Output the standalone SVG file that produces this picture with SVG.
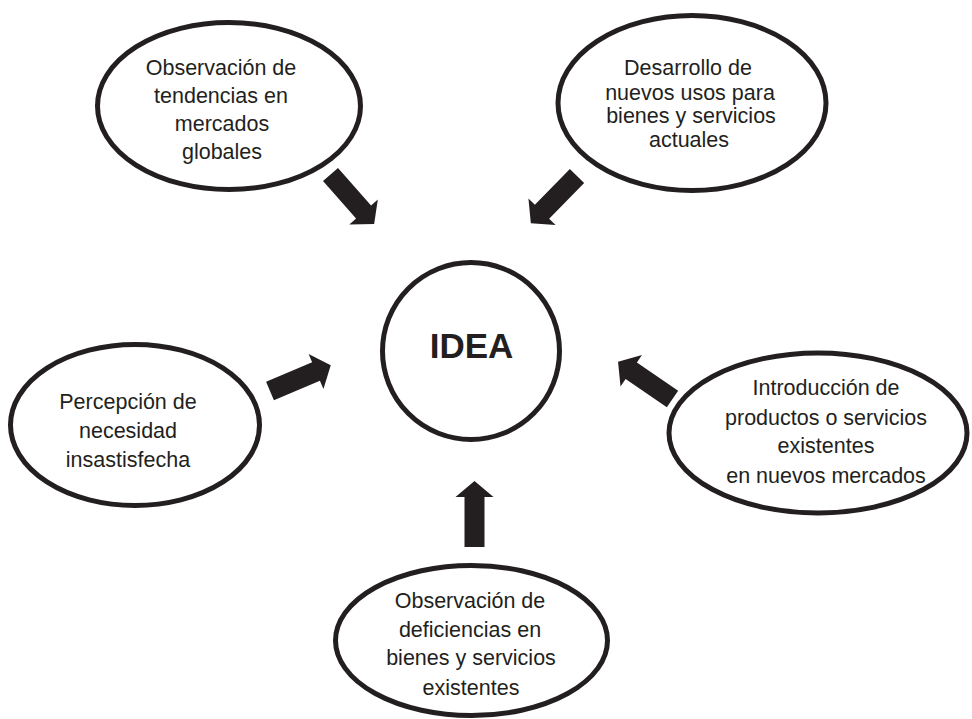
<svg xmlns="http://www.w3.org/2000/svg" width="972" height="719" viewBox="0 0 972 719">
<defs>
<style>
.n{fill:#fff;stroke:#231f20;stroke-width:5}
.t{font-family:"Liberation Sans",Arial,sans-serif;font-size:21.5px;fill:#231f20;text-anchor:middle}
.b{font-family:"Liberation Sans",Arial,sans-serif;font-size:35px;font-weight:bold;fill:#231f20;text-anchor:middle}
.a{fill:#231f20}
</style>
<path id="arr" d="M0,-10 L50,-10 L50,-19 L66,0 L50,19 L50,10 L0,10 Z"/>
</defs>
<rect width="972" height="719" fill="#fff"/>
<g id="connectors">
<use href="#arr" class="a" transform="translate(330.5,174.5) rotate(48.6)"/>
<use href="#arr" class="a" transform="translate(577,176) rotate(134.4)"/>
<use href="#arr" class="a" transform="translate(270,391) rotate(-23)"/>
<use href="#arr" class="a" transform="translate(672.5,399) rotate(-145.6)"/>
<use href="#arr" class="a" transform="translate(474.5,547) rotate(-90)"/>
</g>
<g id="n1">
<ellipse class="n" cx="229" cy="106" rx="131.5" ry="83.5"/>
<text class="t" x="221" y="75">Observación de</text>
<text class="t" x="221" y="103">tendencias en</text>
<text class="t" x="222" y="131">mercados</text>
<text class="t" x="222" y="159">globales</text>
</g>
<g id="n2">
<ellipse class="n" cx="692" cy="103" rx="134" ry="87.5"/>
<text class="t" x="688" y="75">Desarrollo de</text>
<text class="t" x="690" y="100">nuevos usos para</text>
<text class="t" x="691" y="123">bienes y servicios</text>
<text class="t" x="689" y="147">actuales</text>
</g>
<g id="idea">
<circle class="n" cx="471" cy="351" r="88.5"/>
<text class="b" x="471.5" y="358">IDEA</text>
</g>
<g id="n3">
<ellipse class="n" cx="135" cy="425" rx="124.5" ry="80.5"/>
<text class="t" x="128" y="409">Percepción de</text>
<text class="t" x="128" y="438">necesidad</text>
<text class="t" x="128" y="467">insastisfecha</text>
</g>
<g id="n4">
<ellipse class="n" cx="818" cy="433" rx="149" ry="80"/>
<text class="t" x="826" y="395">Introducción de</text>
<text class="t" x="826" y="425">productos o servicios</text>
<text class="t" x="826" y="453">existentes</text>
<text class="t" x="826" y="483">en nuevos mercados</text>
</g>
<g id="n5">
<ellipse class="n" cx="471.5" cy="640.5" rx="136" ry="75"/>
<text class="t" x="470" y="608">Observación de</text>
<text class="t" x="470" y="637">deficiencias en</text>
<text class="t" x="471" y="665">bienes y servicios</text>
<text class="t" x="471" y="695">existentes</text>
</g>
</svg>
